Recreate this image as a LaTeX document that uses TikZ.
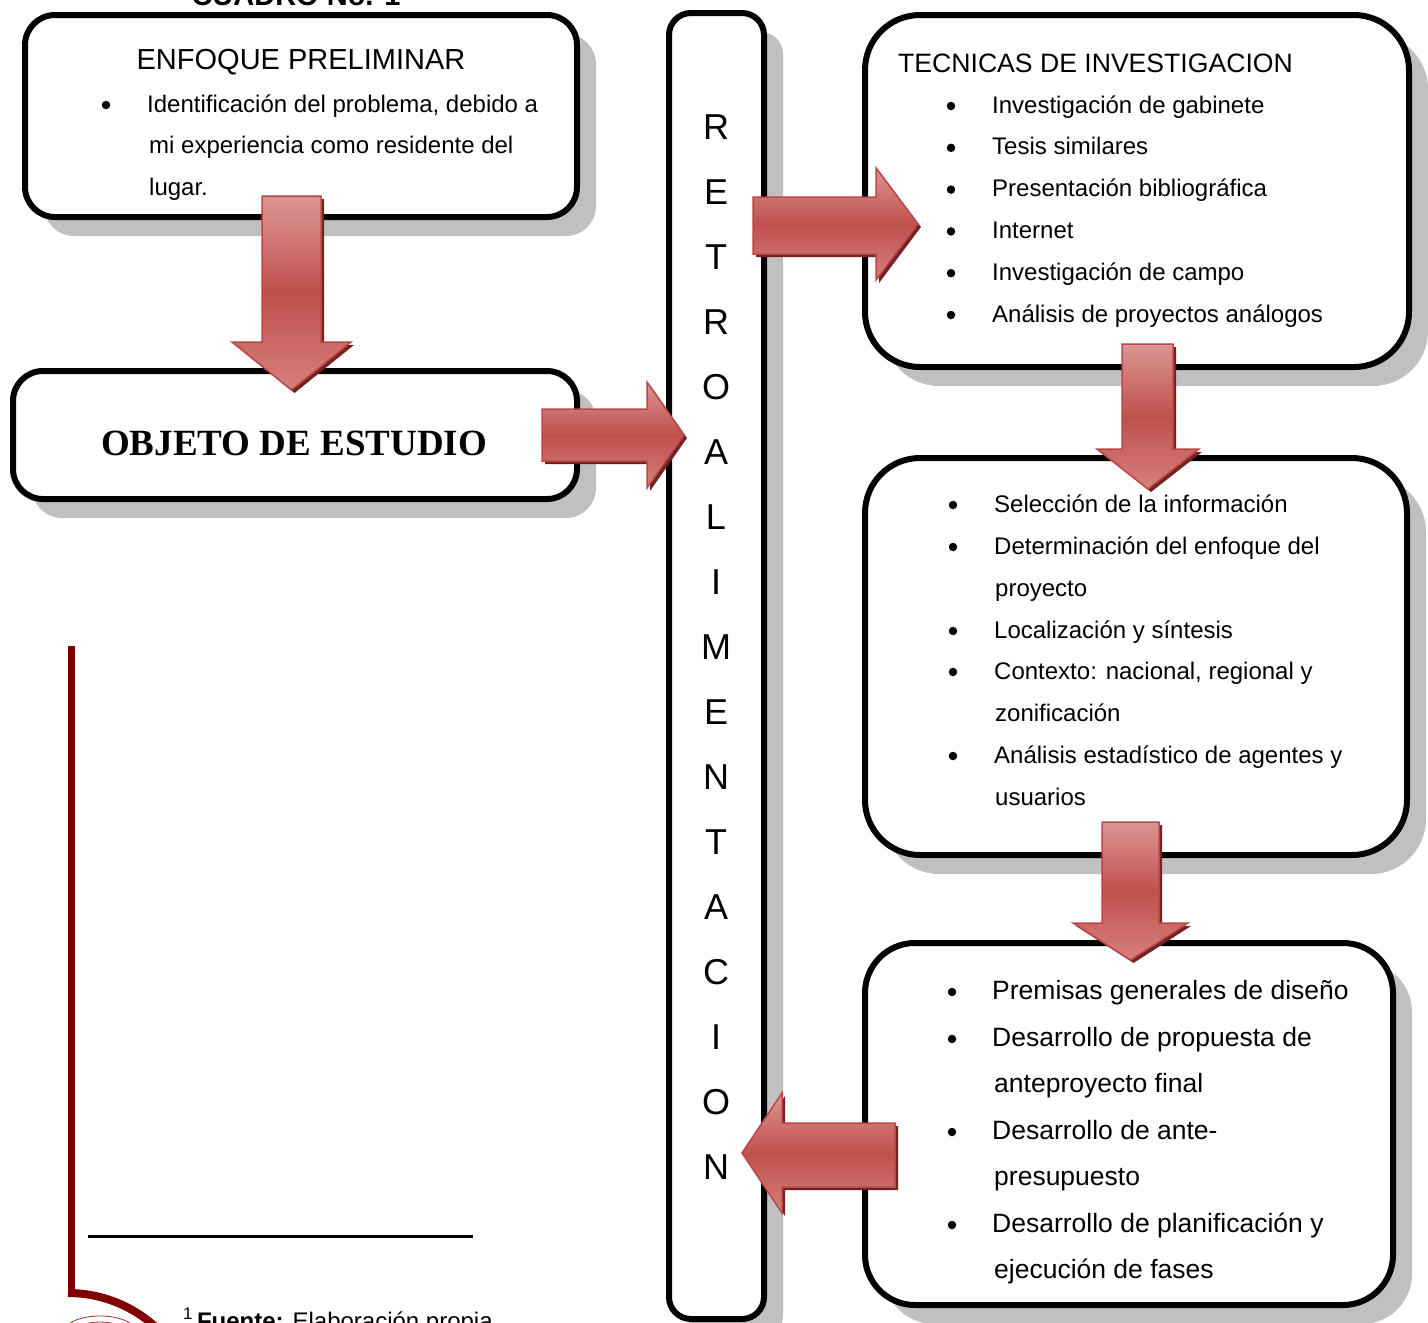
\documentclass[tikz,border=0pt]{standalone}
\usepackage{fontspec}
\setmainfont{Liberation Sans}
\newfontfamily\serifbf{Liberation Serif}
\usetikzlibrary{shadows}
\definecolor{shadowgray}{RGB}{192,192,192}
\definecolor{arrtop}{RGB}{219,150,148}
\definecolor{arrmid}{RGB}{192,80,77}
\definecolor{arrbot}{RGB}{214,128,125}
\definecolor{arredge}{RGB}{188,72,70}
\definecolor{arrshadow}{RGB}{115,35,35}
\definecolor{darkmaroon}{RGB}{128,0,0}
\tikzset{
  box/.style={draw=black, line width=6pt, fill=white, inner sep=0pt,
    drop shadow={shadow xshift=19pt, shadow yshift=-19pt, fill=shadowgray, opacity=1}},
  blk/.style={draw=arredge, line width=1.5pt, top color=arrtop, bottom color=arrbot, middle color=arrmid},
  blkshadow/.style={fill=arrshadow},
  tA/.style={inner sep=0pt, font=\fontsize{24}{24}\selectfont},
  tB/.style={inner sep=0pt, font=\fontsize{26.5}{26.5}\selectfont},
  bul/.style={circle, fill=black, inner sep=0pt, minimum size=8.5pt},
  retro/.style={inner sep=0pt, anchor=base, font=\fontsize{36}{36}\selectfont},
}
\newcommand\blkdown[7]{%
  \fill[blkshadow,shift={(3,3)}] (#1,#3) -- (#2,#3) -- (#2,#4) -- (#6,#4) -- ({(#5+#6)/2},#7) -- (#5,#4) -- (#1,#4) -- cycle;
  \draw[blk] (#1,#3) -- (#2,#3) -- (#2,#4) -- (#6,#4) -- ({(#5+#6)/2},#7) -- (#5,#4) -- (#1,#4) -- cycle;}
\newcommand\blkh[7]{%
  \fill[blkshadow,shift={(3,3)}] (#1,#2) -- (#4,#2) -- (#4,#5) -- (#7,{(#5+#6)/2}) -- (#4,#6) -- (#4,#3) -- (#1,#3) -- cycle;
  \draw[blk] (#1,#2) -- (#4,#2) -- (#4,#5) -- (#7,{(#5+#6)/2}) -- (#4,#6) -- (#4,#3) -- (#1,#3) -- cycle;}
\begin{document}
\begin{tikzpicture}[x=1pt,y=-1pt]
\useasboundingbox (0,0) rectangle (1428,1323);
% top caption (cut)
\node[inner sep=0pt, anchor=base, font=\bfseries\fontsize{29}{29}\selectfont] (cap) at (296,5) {CUADRO No. 1};
% boxes
\node[box, rounded corners=30pt, minimum width=552pt, minimum height=202pt] (enf) at (301,116) {};
\node[box, rounded corners=30pt, minimum width=564pt, minimum height=128pt] (obj) at (295,435) {};
\node[box, rounded corners=22pt, minimum width=95pt, minimum height=1306pt] (ret) at (716.5,666) {};
\node[box, rounded corners=55pt, minimum width=544pt, minimum height=352pt] (tec) at (1137,191) {};
\node[box, rounded corners=55pt, minimum width=542pt, minimum height=397pt] (sel) at (1136,656.5) {};
\node[box, rounded corners=50pt, minimum width=528pt, minimum height=362pt] (pre) at (1129,1124) {};
% box 1 text
\node[inner sep=0pt, anchor=base, font=\fontsize{29}{29}\selectfont] (enft) at (301,69) {ENFOQUE PRELIMINAR};
\node[bul] (eb1) at (106,105) {};
\node[tA, anchor=base west] (e1) at (147,112) {Identificación del problema, debido a};
\node[tA, anchor=base west] (e2) at (149,153) {mi experiencia como residente del};
\node[tA, anchor=base west] (e3) at (149,195) {lugar.};
% objeto
\node[inner sep=0pt, anchor=base, font=\serifbf\bfseries\fontsize{37}{37}\selectfont] (objt) at (294,455) {OBJETO DE ESTUDIO};
% retro letters
\foreach \l [count=\i from 0] in {R,E,T,R,O,A,L,I,M,E,N,T,A,C,I,O,N}
  \node[retro] (r\i) at (716,{139+65*\i}) {\l};
% tecnicas
\node[inner sep=0pt, anchor=base west, font=\fontsize{26.6}{27}\selectfont] (tect) at (898,72) {TECNICAS DE INVESTIGACION};
\foreach \t [count=\i from 0] in {Investigación de gabinete,Tesis similares,Presentación bibliográfica,Internet,Investigación de campo,Análisis de proyectos análogos}{
  \node[bul] (tb\i) at (951,{106+41.8*\i}) {};
  \node[tA, anchor=base west] (tt\i) at (992,{113+41.8*\i}) {\t};
}
% seleccion box
\node[bul] (sb1) at (953,505) {};
\node[tA, anchor=base west] (s1) at (994,512) {Selección de la información};
\node[bul] (sb2) at (953,547) {};
\node[tA, anchor=base west] (s2) at (994,554) {Determinación del enfoque del};
\node[tA, anchor=base west] (s3) at (995,596) {proyecto};
\node[bul] (sb4) at (953,631) {};
\node[tA, anchor=base west] (s4) at (994,638) {Localización y síntesis};
\node[bul] (sb5) at (953,672) {};
\node[tA, anchor=base west] (s5) at (994,679) {Contexto: nacional, regional y};
\node[tA, anchor=base west] (s6) at (995,721) {zonificación};
\node[bul] (sb7) at (953,756) {};
\node[tA, anchor=base west] (s7) at (994,763) {Análisis estadístico de agentes y};
\node[tA, anchor=base west] (s8) at (995,805) {usuarios};
% premisas box
\node[bul] (pb1) at (952,992) {};
\node[tB, anchor=base west] (p1) at (992,999) {Premisas generales de diseño};
\node[bul] (pb2) at (952,1039) {};
\node[tB, anchor=base west] (p2) at (992,1046) {Desarrollo de propuesta de};
\node[tB, anchor=base west] (p3) at (994,1092) {anteproyecto final};
\node[bul] (pb4) at (952,1132) {};
\node[tB, anchor=base west] (p4) at (992,1139) {Desarrollo de ante-};
\node[tB, anchor=base west] (p5) at (994,1185) {presupuesto};
\node[bul] (pb6) at (952,1225) {};
\node[tB, anchor=base west] (p6) at (992,1232) {Desarrollo de planificación y};
\node[tB, anchor=base west] (p7) at (994,1278) {ejecución de fases};
% block arrows
\blkdown{262}{321}{196}{342}{232}{351}{390}
\blkh{542}{409}{461}{647}{382}{488}{684}
\blkh{753}{197}{254}{876}{168}{280}{918}
\blkdown{1122}{1173}{344}{449}{1097}{1199}{489}
\blkdown{1102}{1159}{822}{923}{1073}{1188}{960}
\blkh{895}{1123}{1187}{782}{1093}{1213}{742}
% footnote area
\draw[line width=3pt] (88,1236) -- (473,1236);
\draw[darkmaroon, line width=7pt] (71.5,646) -- (71.5,1293);
\draw[darkmaroon, line width=8pt] (68,1293) arc[start angle=-90, end angle=-40, radius=130];
\draw[darkmaroon!80, line width=0.8pt] (100,1332) ellipse[x radius=36, y radius=16];
\draw[darkmaroon!80, line width=0.8pt] (100,1334) ellipse[x radius=28, y radius=12];
\node[tA, anchor=base west] (fn) at (183,1329) {\textsuperscript{1}\,\textbf{Fuente:} Elaboración propia};
\end{tikzpicture}
\end{document}
